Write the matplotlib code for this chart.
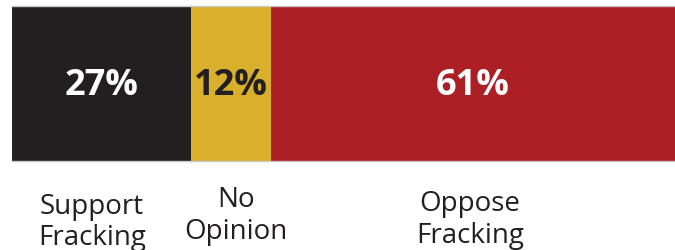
import matplotlib.pyplot as plt

# --------------------------------------------------------------------------
# Data
# --------------------------------------------------------------------------
categories = ["Support\nFracking", "No\nOpinion", "Oppose\nFracking"]
shares = [27, 12, 61]
colors = ["#231f20", "#d8b02b", "#ac1f24"]
text_colors = ["white", "#231f20", "white"]

plt.rcParams['font.family'] = ['Open Sans', 'DejaVu Sans']

fig = plt.figure(figsize=(6.75, 2.51), dpi=100)
# bar occupies the upper part of the figure, labels below it
ax = fig.add_axes([12/675, 1 - 162/251, 663/675, 155/251])
ax.set_xlim(0, sum(shares))
ax.set_ylim(0, 1)
ax.axis("off")

# small nudges (points) of the category labels
label_nudge = [(-7, -3), (4, 1.5), (-2, -1.2)]

left = 0
for cat, val, clr, tclr, (dx, dy) in zip(categories, shares, colors, text_colors, label_nudge):
    ax.barh(0.5, val, left=left, height=1.0, color=clr, edgecolor="none")
    mid = left + val / 2
    ax.text(mid, 0.49, f"{val}%", ha="center", va="center",
            color=tclr, fontsize=26, fontweight="bold")
    ax.annotate(cat, (mid, -0.17), xytext=(dx, dy), textcoords="offset points",
                ha="center", va="top", color="#231f20",
                fontsize=20, linespacing=1.17, annotation_clip=False)
    left += val

# thin grey border lines on top and bottom of the bar
ax.plot([0, sum(shares)], [1, 1], color="#c8c8c8", lw=1, clip_on=False)
ax.plot([0, sum(shares)], [0, 0], color="#c8c8c8", lw=1, clip_on=False)

plt.savefig("out.png", dpi=100)
